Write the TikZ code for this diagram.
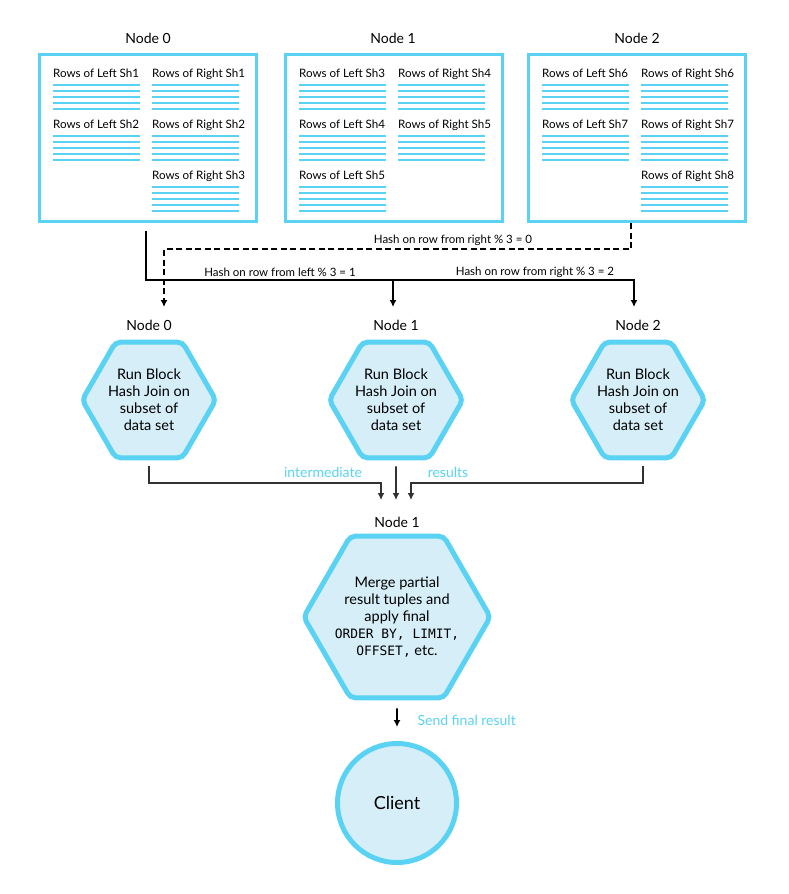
\documentclass[tikz,border=0pt]{standalone}
\usepackage{fontspec}
\setmainfont{Lato}
\setmonofont[Scale=0.89]{DejaVu Sans Mono}
\usetikzlibrary{shapes.geometric,calc,arrows.meta}
\definecolor{shardblue}{RGB}{90,210,243}
\definecolor{paleblue}{RGB}{214,238,247}
\definecolor{joingray}{RGB}{50,50,50}
\tikzset{
  nodebox/.style={draw=shardblue,line width=3pt,minimum width=217pt,minimum height=167pt,inner sep=0pt},
  rowline/.style={draw=shardblue,line width=2.8pt},
  shardtext/.style={anchor=west,inner sep=0pt,text height=8pt,text depth=2.5pt,font=\fontsize{11.6}{13}\selectfont},
  nodelabel/.style={font=\fontsize{14}{16}\selectfont},
  joinhex/.style={regular polygon,regular polygon sides=6,draw=shardblue,fill=paleblue,line width=5pt,rounded corners=5pt,minimum size=129pt,align=center,inner sep=0pt,font=\fontsize{14.5}{17}\selectfont},
  hashlabel/.style={font=\fontsize{11.5}{13}\selectfont},
  resultlabel/.style={text=shardblue,font=\fontsize{14}{16}\selectfont},
  flow/.style={line width=1.8pt,-{Latex[length=7pt,width=7pt]}},
  joinflow/.style={line width=1.8pt,draw=joingray,-{Latex[length=7pt,width=7pt]}},
}
\begin{document}
\begin{tikzpicture}[x=1pt,y=-1pt]
\useasboundingbox (0,0) rectangle (789,894);

% storage nodes with their shards
\node[nodelabel] (t0) at (148,38) {Node 0};
\node[nodelabel] (t1) at (393,38) {Node 1};
\node[nodelabel] (t2) at (637,38) {Node 2};
\node[nodebox] (b0) at (148,138) {};
\node[nodebox] (b1) at (394,138) {};
\node[nodebox] (b2) at (637,138) {};

\foreach \bx/\col/\k/\txt in {b0/0/0/Left Sh1, b0/1/0/Right Sh1, b0/0/1/Left Sh2, b0/1/1/Right Sh2, b0/1/2/Right Sh3,
                              b1/0/0/Left Sh3, b1/1/0/Right Sh4, b1/0/1/Left Sh4, b1/1/1/Right Sh5, b1/0/2/Left Sh5,
                              b2/0/0/Left Sh6, b2/1/0/Right Sh6, b2/0/1/Left Sh7, b2/1/1/Right Sh7, b2/1/2/Right Sh8}{
  \node[shardtext] (\bx-\col-\k) at ($(\bx.north west)+(15+99*\col,22+51*\k)$) {Rows of \txt};
  \foreach \j in {0,...,4}
    \draw[rowline] ($(\bx-\col-\k.west)+(0,10+6*\j)$) -- +(87,0);
}

% redistribution by hash
\coordinate (dashbus) at (0,249);
\coordinate (hashbus) at (0,280);
\coordinate (to0) at (164,307);
\coordinate (to1) at (393,307);
\coordinate (to2) at (634,307);
\draw[flow] ([xshift=-2pt,yshift=-8pt]b0.south) |- (hashbus -| to2) -- (to2);
\draw[flow] (to1 |- hashbus) -- (to1);
\draw[flow,dash pattern=on 6pt off 3.5pt] ([xshift=-6pt]b2.south) |- (dashbus -| to0) -- (to0);
\node[hashlabel] (hr0) at (453,240) {Hash on row from right \% 3 = 0};
\node[hashlabel] (hl1) at (280,272) {Hash on row from left \% 3 = 1};
\node[hashlabel] (hr2) at (535,272) {Hash on row from right \% 3 = 2};

% block hash join on every node
\node[nodelabel] (j0) at (149,325) {Node 0};
\node[nodelabel] (j1) at (396,325) {Node 1};
\node[nodelabel] (j2) at (638,325) {Node 2};
\node[joinhex] (h0) at (149,400) {Run Block\\Hash Join on\\subset of\\data set};
\node[joinhex] (h1) at (396,400) {Run Block\\Hash Join on\\subset of\\data set};
\node[joinhex] (h2) at (638,400) {Run Block\\Hash Join on\\subset of\\data set};

\coordinate (joinbus) at (0,483);
\coordinate (in0) at (381,500);
\coordinate (in1) at (396,500);
\coordinate (in2) at (411,500);
\draw[joinflow] ([yshift=-6pt]h0.south) |- (joinbus -| in0) -- (in0);
\draw[joinflow] ([yshift=-6pt]h1.south) -- (in1);
\draw[joinflow] ([xshift=5pt,yshift=-6pt]h2.south) |- (joinbus -| in2) -- (in2);
\node[resultlabel] (inter) at (323,472) {intermediate};
\node[resultlabel] (res) at (448,472) {results};

% merge and send
\node[nodelabel] (m1) at (397,522) {Node 1};
\node[joinhex,minimum size=182pt,inner sep=-5pt] (merge) at (397,617) {Merge partial\\result tuples and\\apply final\\\texttt{ORDER BY, LIMIT,}\\\texttt{OFFSET,} etc.};
\node[circle,draw=shardblue,fill=paleblue,line width=5pt,minimum size=119pt,font=\fontsize{18}{20}\selectfont] (client) at (397,803) {Client};
\draw[flow] ([yshift=-8pt]merge.south) -- ([yshift=14pt]client.north);
\node[resultlabel,anchor=west] (send) at (414,720) {Send final result};
\end{tikzpicture}
\end{document}
